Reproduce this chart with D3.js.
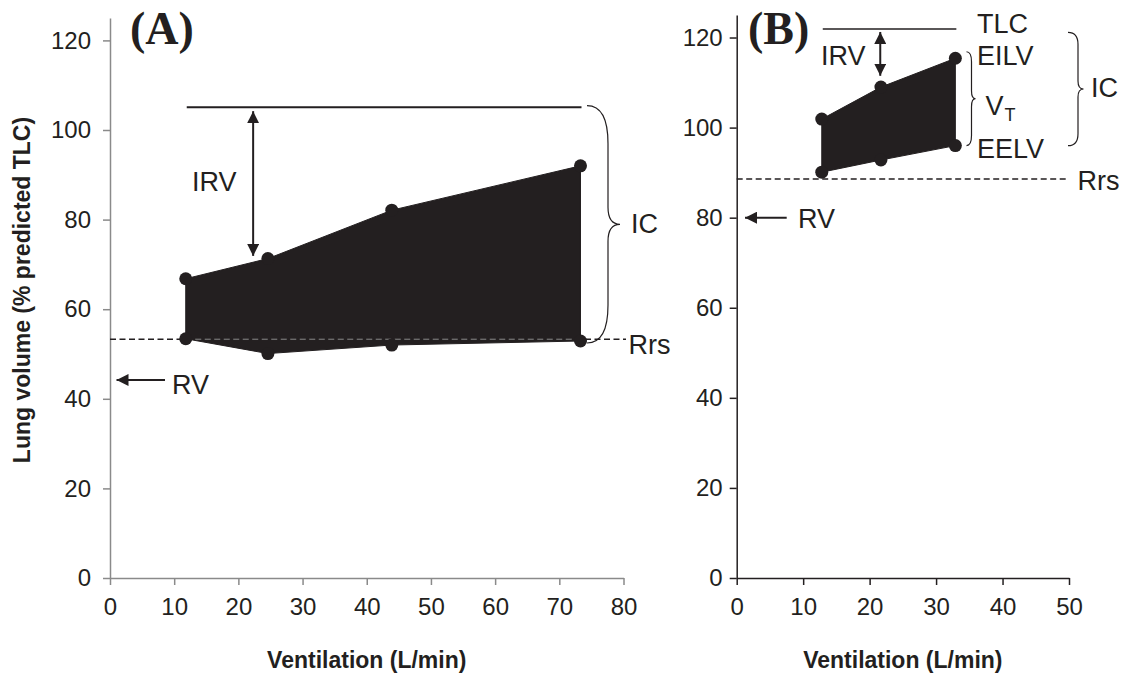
<!DOCTYPE html>
<html><head><meta charset="utf-8">
<script src="https://cdn.jsdelivr.net/npm/d3@7"></script>
<style>body{margin:0;background:#fff}text{font-family:"Liberation Sans",Arial,sans-serif;fill:#231f20}</style>
</head><body><svg id="c" width="1130" height="673"></svg>
<script>
// ---- data ----
const ventA = [11.8, 24.6, 43.9, 73.3];
const eilvA = [66.8, 71.3, 82.1, 92.0];
const eelvA = [53.4, 50.1, 52.0, 52.9];
const ventB = [12.8, 21.7, 32.9];
const eilvB = [101.9, 109.0, 115.4];
const eelvB = [90.1, 92.8, 96.0];
const tlcLevel = [105.1, 121.9];   // A, B
const rrsLevel = [53.3, 88.6];
const rvLevel = [44.2, 80.0];
const irvVent = [22.3, 21.6];
const xTicksA = [0,10,20,30,40,50,60,70,80];
const xTicksB = [0,10,20,30,40,50];
const yTicks = [0,20,40,60,80,100,120];

const svg = d3.select("#c");
const ink = "#231f20";
const defs = svg.append("defs");
defs.append("marker").attr("id","ah").attr("viewBox","0 0 12 12")
  .attr("refX",12).attr("refY",6).attr("markerWidth",12).attr("markerHeight",12)
  .attr("markerUnits","userSpaceOnUse").attr("orient","auto-start-reverse")
  .append("path").attr("d","M0,0L12,6L0,12Z").attr("fill",ink);

function brace(g, x0, xm, xt, y1, y2, rEnd, rTip){
  const mid=(y1+y2)/2;
  const d=`M${x0},${y1} Q${xm},${y1} ${xm},${y1+rEnd} L${xm},${mid-rTip} Q${xm},${mid} ${xt},${mid}`+
          ` Q${xm},${mid} ${xm},${mid+rTip} L${xm},${y2-rEnd} Q${xm},${y2} ${x0},${y2}`;
  g.append("path").attr("d",d).attr("fill","none").attr("stroke",ink).attr("stroke-width",1.2);
}
function txt(g,x,y,s,size){ return g.append("text").attr("x",x).attr("y",y).attr("font-size",size||27).text(s); }

function panel(opt){
  const g = svg.append("g");
  const x = d3.scaleLinear().domain(opt.xd).range(opt.xr);
  const y = d3.scaleLinear().domain([0,125]).range(opt.yr);
  const ax = g.append("g").attr("transform",`translate(0,${opt.yr[0]})`)
    .call(d3.axisBottom(x).tickValues(opt.xt).tickSize(7).tickSizeOuter(0).tickPadding(13));
  const ay = g.append("g").attr("transform",`translate(${opt.xr[0]},0)`)
    .call(d3.axisLeft(y).tickValues(yTicks).tickSize(7).tickSizeOuter(0).tickPadding(opt.ypad));
  [ax,ay].forEach(a=>{
    a.selectAll("path,line").attr("stroke",opt.axisColor).attr("stroke-width",1.5);
    a.selectAll("text").attr("font-size",24).attr("fill",ink).style("font-family","Liberation Sans, Arial, sans-serif");
  });
  ax.selectAll("text").attr("dy","0.71em");
  g.append("text").attr("x",(opt.xr[0]+opt.xr[1])/2).attr("y",668).attr("text-anchor","middle")
    .attr("font-size",23).attr("font-weight","bold").text("Ventilation (L/min)");
  return {g,x,y};
}

// ---------- Panel A ----------
{
  const {g,x,y} = panel({xd:[0,80], xr:[110,623.5], yr:[578,18], xt:xTicksA, ypad:12, axisColor:"#8a8a8a"});
  const pts = ventA.map((v,i)=>[x(v),y(eilvA[i])]).concat(ventA.map((v,i)=>[x(v),y(eelvA[i])]).reverse());
  g.append("line").attr("x1",x(0)).attr("x2",626).attr("y1",y(rrsLevel[0])).attr("y2",y(rrsLevel[0]))
    .attr("stroke",ink).attr("stroke-width",1.5).attr("stroke-dasharray","6,3.5");
  g.append("path").attr("d",d3.line()(pts)+"Z").attr("fill",ink).attr("stroke",ink).attr("stroke-width",1);
  g.append("line").attr("x1",x(ventA[0])).attr("x2",x(ventA[3])).attr("y1",y(rrsLevel[0])).attr("y2",y(rrsLevel[0]))
    .attr("stroke","#8a8a8a").attr("stroke-width",1).attr("stroke-dasharray","6,3.5");
  ventA.forEach((v,i)=>{
    g.append("circle").attr("cx",x(v)).attr("cy",y(eilvA[i])).attr("r",6.5).attr("fill",ink);
    g.append("circle").attr("cx",x(v)).attr("cy",y(eelvA[i])).attr("r",6.5).attr("fill",ink);
  });
  g.append("line").attr("x1",x(ventA[0])+1).attr("x2",x(ventA[3])+1).attr("y1",y(tlcLevel[0])).attr("y2",y(tlcLevel[0]))
    .attr("stroke",ink).attr("stroke-width",2);
  g.append("line").attr("x1",x(irvVent[0])).attr("x2",x(irvVent[0])).attr("y1",y(tlcLevel[0])+4).attr("y2",y(71.9))
    .attr("stroke",ink).attr("stroke-width",2).attr("marker-start","url(#ah)").attr("marker-end","url(#ah)");
  txt(g,192,190.7,"IRV");
  g.append("line").attr("x1",165).attr("x2",116.5).attr("y1",y(rvLevel[0])).attr("y2",y(rvLevel[0]))
    .attr("stroke",ink).attr("stroke-width",2).attr("marker-end","url(#ah)");
  txt(g,172,394,"RV");
  brace(g, 587, 608, 620, y(tlcLevel[0])-1.5, y(eelvA[3])+2, 38, 17);
  txt(g,631,232.7,"IC");
  txt(g,628.5,353.5,"Rrs");
  g.append("text").attr("x",130).attr("y",43.5).attr("font-size",46).attr("font-weight","bold")
    .style("font-family","Liberation Serif, Times New Roman, serif").text("(A)");
  g.append("text").attr("transform","translate(30,290) rotate(-90)").attr("text-anchor","middle")
    .attr("font-size",23).attr("font-weight","bold").text("Lung volume (% predicted TLC)");
}

// ---------- Panel B ----------
{
  const {g,x,y} = panel({xd:[0,50], xr:[736.7,1069], yr:[578,15], xt:xTicksB, ypad:7, axisColor:ink});
  const pts = ventB.map((v,i)=>[x(v),y(eilvB[i])]).concat(ventB.map((v,i)=>[x(v),y(eelvB[i])]).reverse());
  g.append("line").attr("x1",x(0)).attr("x2",1068).attr("y1",y(rrsLevel[1])).attr("y2",y(rrsLevel[1]))
    .attr("stroke",ink).attr("stroke-width",1.5).attr("stroke-dasharray","6,3.5");
  g.append("path").attr("d",d3.line()(pts)+"Z").attr("fill",ink).attr("stroke",ink).attr("stroke-width",1);
  ventB.forEach((v,i)=>{
    g.append("circle").attr("cx",x(v)).attr("cy",y(eilvB[i])).attr("r",6.5).attr("fill",ink);
    g.append("circle").attr("cx",x(v)).attr("cy",y(eelvB[i])).attr("r",6.5).attr("fill",ink);
  });
  g.append("line").attr("x1",x(ventB[0])+1).attr("x2",x(ventB[2])+1).attr("y1",y(tlcLevel[1])).attr("y2",y(tlcLevel[1]))
    .attr("stroke",ink).attr("stroke-width",1.5);
  g.append("line").attr("x1",x(irvVent[1])).attr("x2",x(irvVent[1])).attr("y1",y(tlcLevel[1])+3).attr("y2",y(111.5))
    .attr("stroke",ink).attr("stroke-width",2).attr("marker-start","url(#ah)").attr("marker-end","url(#ah)");
  txt(g,821,65,"IRV");
  txt(g,977,33,"TLC");
  txt(g,977,65,"EILV");
  txt(g,985.5,115,"V");
  txt(g,1004.5,121,"T",18);
  txt(g,977,158.3,"EELV");
  brace(g, 966.5, 971.5, 975.5, y(eilvB[2])-6.5, y(eelvB[2]), 10, 8);
  brace(g, 1068, 1078, 1083.5, 32.3, 145.7, 12, 8);
  txt(g,1091,96.7,"IC");
  txt(g,1077.5,190,"Rrs");
  g.append("line").attr("x1",786.7).attr("x2",745).attr("y1",y(rvLevel[1])).attr("y2",y(rvLevel[1]))
    .attr("stroke",ink).attr("stroke-width",2).attr("marker-end","url(#ah)");
  txt(g,798,228,"RV");
  g.append("text").attr("x",748).attr("y",43.5).attr("font-size",46).attr("font-weight","bold")
    .style("font-family","Liberation Serif, Times New Roman, serif").text("(B)");
}
</script></body></html>
